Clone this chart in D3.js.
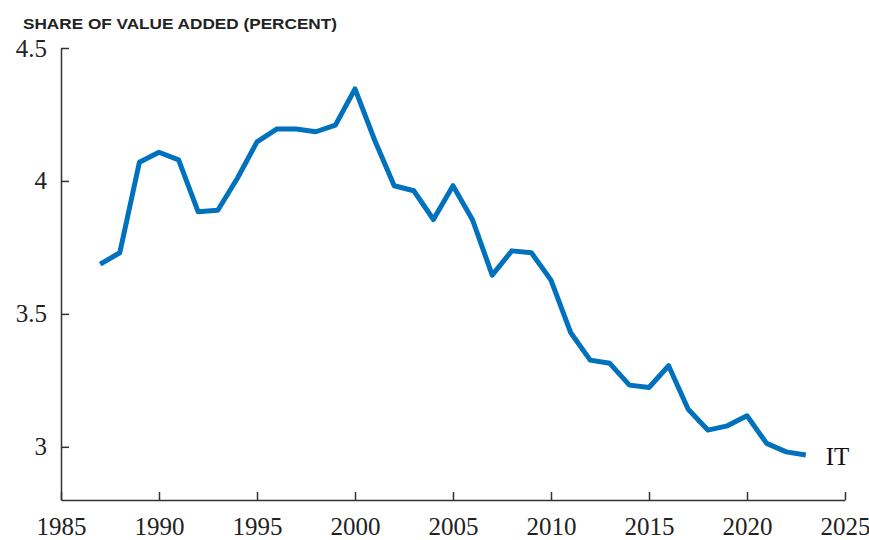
<!DOCTYPE html>
<html>
<head>
<meta charset="utf-8">
<script src="https://cdn.jsdelivr.net/npm/d3@7"></script>
<style>
  body { margin: 0; background: #fff; }
  .tick text { font-family: "Liberation Serif", "Times New Roman", serif; font-size: 25px; fill: #222; }
  .axis path, .axis line { stroke: #333; stroke-width: 1.5; }
</style>
</head>
<body>
<div id="graphic"></div>
<script>
// share of value added, percent
var years = [1987, 1988, 1989, 1990, 1991, 1992, 1993, 1994, 1995, 1996,
             1997, 1998, 1999, 2000, 2001, 2002, 2003, 2004, 2005, 2006,
             2007, 2008, 2009, 2010, 2011, 2012, 2013, 2014, 2015, 2016,
             2017, 2018, 2019, 2020, 2021, 2022, 2023];
var shareIT = [3.687, 3.730, 4.070, 4.108, 4.079, 3.884, 3.890, 4.010, 4.147, 4.195,
               4.195, 4.185, 4.210, 4.346, 4.154, 3.982, 3.963, 3.855, 3.982, 3.853,
               3.646, 3.737, 3.730, 3.627, 3.430, 3.326, 3.314, 3.232, 3.223, 3.305,
               3.141, 3.063, 3.079, 3.117, 3.013, 2.981, 2.969];
var xTicks = [1985, 1990, 1995, 2000, 2005, 2010, 2015, 2020, 2025];
var yTicks = [3, 3.5, 4, 4.5];
var yTickLabels = ["3", "3.5", "4", "4.5"];
var seriesName = "IT";

var W = 869, H = 540;
var margin = { top: 48, right: 24, bottom: 40, left: 61 },
    width = W - margin.left - margin.right,
    height = H - margin.top - margin.bottom;

var svg = d3.select("#graphic").append("svg")
    .attr("width", W)
    .attr("height", H);

// title
svg.append("text")
    .attr("x", 23)
    .attr("y", 29)
    .attr("font-family", "'Liberation Sans', Arial, sans-serif")
    .attr("font-weight", "bold")
    .attr("font-size", 15.5)
    .attr("fill", "#222")
    .attr("textLength", 314)
    .attr("lengthAdjust", "spacingAndGlyphs")
    .text("SHARE OF VALUE ADDED (PERCENT)");

var g = svg.append("g")
    .attr("transform", "translate(" + margin.left + "," + margin.top + ")");

var x = d3.scaleLinear().domain([1985, 2025]).range([0, width]);
var y = d3.scaleLinear().domain([2.8, 4.5]).range([height, 0]);

// x axis, ticks pointing inward
g.append("g")
    .attr("class", "axis")
    .attr("transform", "translate(0," + height + ")")
    .call(d3.axisBottom(x).tickValues(xTicks).tickFormat(d3.format("d"))
        .tickSizeInner(-8).tickSizeOuter(0).tickPadding(17));

// y axis
g.append("g")
    .attr("class", "axis")
    .call(d3.axisLeft(y).tickValues(yTicks)
        .tickFormat(function(d, i) { return yTickLabels[i]; })
        .tickSizeInner(-8).tickSizeOuter(0).tickPadding(14));

// the line
var line = d3.line()
    .x(function(d, i) { return x(years[i]); })
    .y(function(d) { return y(d); });

g.append("path")
    .datum(shareIT)
    .attr("fill", "none")
    .attr("stroke", "#0072bd")
    .attr("stroke-width", 5)
    .attr("stroke-linejoin", "round")
    .attr("d", line);

// series label at the end of the line
g.append("text")
    .attr("x", x(years[years.length - 1]) + 20)
    .attr("y", y(shareIT[shareIT.length - 1]) + 10)
    .attr("font-family", "'Liberation Serif', 'Times New Roman', serif")
    .attr("font-size", 25)
    .attr("fill", "#111")
    .text(seriesName);
</script>
</body>
</html>
